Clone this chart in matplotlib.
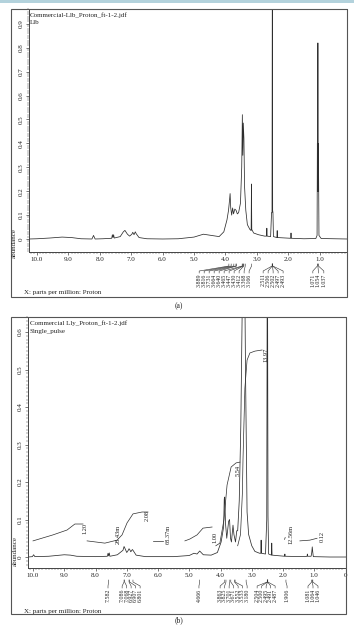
import matplotlib
matplotlib.use("Agg")
import matplotlib.pyplot as plt
from matplotlib.patches import Rectangle
from matplotlib.lines import Line2D
from matplotlib.ticker import MultipleLocator, FixedLocator
import matplotlib.transforms as mtransforms

plt.rcParams['font.family'] = ['Liberation Serif', 'DejaVu Serif']

# ------------------------------------------------------------------ data (a)
a_ppm = [10.25, 10.0, 9.6, 9.2, 8.9, 8.6, 8.25, 8.2, 8.15, 7.9, 7.62, 7.60, 7.58, 7.56,
         7.54, 7.35, 7.25, 7.20, 7.12, 7.05, 6.98, 6.95, 6.91, 6.87, 6.84, 6.75, 6.5,
         6.0, 5.5, 5.0, 4.7, 4.5, 4.2, 4.05, 3.95, 3.90, 3.87, 3.85, 3.83, 3.80, 3.77,
         3.74, 3.70, 3.66, 3.62, 3.58, 3.52, 3.48, 3.46, 3.445, 3.43, 3.41, 3.39, 3.35,
         3.30, 3.22, 3.18, 3.17, 3.16, 3.10, 2.95, 2.75, 2.69, 2.68, 2.67, 2.56, 2.53,
         2.515, 2.505, 2.495, 2.485, 2.47, 2.36, 2.35, 2.34, 1.92, 1.91, 1.90, 1.5, 1.12,
         1.08, 1.071, 1.062, 1.054, 1.045, 1.037, 1.02, 0.95, 0.13]
a_abund = [0.000, 0.001, 0.004, 0.008, 0.006, 0.001, 0.000, 0.015, 0.000, 0.001, 0.003,
           0.018, 0.006, 0.018, 0.004, 0.010, 0.030, 0.036, 0.020, 0.012, 0.020, 0.028,
           0.018, 0.030, 0.022, 0.006, 0.001, 0.000, 0.001, 0.008, 0.020, 0.016, 0.010,
           0.030, 0.080, 0.120, 0.160, 0.190, 0.130, 0.100, 0.130, 0.105, 0.125, 0.120,
           0.105, 0.110, 0.150, 0.300, 0.520, 0.350, 0.485, 0.420, 0.220, 0.120, 0.060,
           0.040, 0.035, 0.230, 0.040, 0.025, 0.018, 0.012, 0.012, 0.045, 0.012, 0.010,
           0.110, 0.110, 1.200, 0.120, 0.110, 0.010, 0.006, 0.035, 0.006, 0.003, 0.025,
           0.003, 0.001, 0.002, 0.015, 0.400, 0.200, 0.820, 0.200, 0.400, 0.015, 0.002,
           0.000]
a_yticks = [0.0, 0.1, 0.2, 0.3, 0.4, 0.5, 0.6, 0.7, 0.8, 0.9]
a_xticks = [10.0, 9.0, 8.0, 7.0, 6.0, 5.0, 4.0, 3.0, 2.0, 1.0]
a_peak_group1 = [3.889, 3.816, 3.731, 3.664, 3.640, 3.465, 3.447, 3.430, 3.412, 3.368, 3.166]
a_peak_group2 = [2.511, 2.506, 2.502, 2.497, 2.493]
a_peak_group3 = [1.071, 1.054, 1.037]
a_header = ["Commercial-Llb_Proton_ft-1-2.jdf", "Llb"]

# ------------------------------------------------------------------ data (b)
b_ppm = [10.16, 10.02, 9.98, 9.94, 9.5, 9.0, 8.8, 8.6, 8.0, 7.62, 7.60, 7.58, 7.56, 7.54,
         7.3, 7.12, 7.086, 7.068, 7.0, 6.95, 6.927, 6.907, 6.87, 6.82, 6.801, 6.7, 6.4,
         5.5, 5.0, 4.85, 4.75, 4.666, 4.55, 4.3, 4.1, 3.98, 3.90, 3.88, 3.863, 3.84, 3.80,
         3.74, 3.71, 3.68, 3.65, 3.60, 3.57, 3.52, 3.48, 3.45, 3.40, 3.35, 3.30, 3.25,
         3.20, 3.15, 3.10, 3.0, 2.9, 2.75, 2.71, 2.70, 2.69, 2.56, 2.52, 2.50, 2.48, 2.46,
         2.37, 2.36, 2.35, 1.95, 1.94, 1.93, 1.3, 1.23, 1.22, 1.21, 1.1, 1.08, 1.064,
         1.046, 1.03, 0.5, -0.02]
b_abund = [0.000, 0.001, 0.006, 0.001, 0.002, 0.006, 0.005, 0.002, 0.001, 0.002, 0.010,
           0.003, 0.011, 0.002, 0.006, 0.018, 0.028, 0.025, 0.012, 0.018, 0.022, 0.020,
           0.014, 0.020, 0.018, 0.005, 0.001, 0.001, 0.004, 0.010, 0.008, 0.016, 0.006,
           0.005, 0.012, 0.040, 0.080, 0.155, 0.160, 0.090, 0.050, 0.095, 0.100, 0.050,
           0.040, 0.085, 0.060, 0.040, 0.070, 0.070, 0.150, 0.350, 0.700, 1.000, 0.500,
           0.120, 0.060, 0.030, 0.015, 0.010, 0.010, 0.045, 0.010, 0.008, 0.100, 1.000,
           0.110, 0.008, 0.005, 0.037, 0.005, 0.002, 0.008, 0.002, 0.001, 0.002, 0.008,
           0.002, 0.002, 0.012, 0.027, 0.012, 0.001, 0.000, 0.000]
b_yticks = [0.0, 0.1, 0.2, 0.3, 0.4, 0.5, 0.6]
b_xticks = [10.0, 9.0, 8.0, 7.0, 6.0, 5.0, 4.0, 3.0, 2.0, 1.0, 0.0]
b_peak_group1 = [7.582]
b_peak_group2 = [7.086, 7.068, 6.927, 6.907, 6.801]
b_peak_group3 = [4.666]
b_peak_group4 = [3.863, 3.825, 3.701, 3.671, 3.552, 3.533, 3.180]
b_peak_group5 = [2.504, 2.500, 2.495, 2.491, 2.487]
b_peak_group6 = [1.906]
b_peak_group7 = [1.081, 1.064, 1.046]
b_header = ["Commercial Lly_Proton_ft-1-2.jdf", "Single_pulse"]

# integral curves (ppm, integral trace height)
b_int1_ppm = [10.0, 9.36, 8.91, 8.66, 8.40]
b_int1_val = [0.043, 0.059, 0.072, 0.088, 0.088]
b_int2_ppm = [8.27, 7.70, 7.31, 7.15, 6.99, 6.80, 6.51, 6.32]
b_int2_val = [0.043, 0.037, 0.045, 0.059, 0.091, 0.115, 0.120, 0.120]
b_int3_ppm = [6.16, 5.84]
b_int3_val = [0.043, 0.043]
b_int4_ppm = [5.14, 4.98, 4.75, 4.56, 4.27]
b_int4_val = [0.043, 0.048, 0.059, 0.077, 0.080]
b_int5_ppm = [4.15, 4.02, 3.89, 3.79, 3.66, 3.50, 3.38]
b_int5_val = [0.030, 0.037, 0.099, 0.192, 0.240, 0.251, 0.253]
b_int6_ppm = [3.45, 3.36, 3.30, 3.28, 3.22, 3.15, 3.06, 2.90, 2.67]
b_int6_val = [0.030, 0.060, 0.170, 0.260, 0.450, 0.525, 0.544, 0.549, 0.552]
b_int7_ppm = [1.95, 1.93]
b_int7_val = [0.047, 0.052]
b_int8_ppm = [1.46, 1.14, 0.91]
b_int8_val = [0.043, 0.045, 0.050]
b_int_labels = ["1.20", "28.43m", "2.08", "68.37m", "1.00", "5.54", "13.97", "12.56m", "0.12"]

# ------------------------------------------------------------------ layout
W, H = 354, 625
INK = '#2e2e2e'
fig = plt.figure(figsize=(W / 100, H / 100), dpi=100)
fig.patch.set_facecolor('white')


def prect(x0, y0, x1, y1):
    return [x0 / W, 1 - y1 / H, (x1 - x0) / W, (y1 - y0) / H]


def fy(y):
    return 1 - y / H


def ftext(x, y, s, **kw):
    fig.text(x / W, fy(y), s, color='#222222', **kw)


# light blue band at very top
fig.add_artist(Rectangle((0, fy(3)), 1, 3 / H, transform=fig.transFigure,
                         facecolor='#b3d2dc', edgecolor='none'))
# outer frames
for (x0, y0, x1, y1) in [(11, 9, 347, 297), (11, 317, 346, 614)]:
    r = prect(x0, y0, x1, y1)
    fig.add_artist(Rectangle((r[0], r[1]), r[2], r[3], transform=fig.transFigure,
                             fill=False, edgecolor='#555555', linewidth=0.8))

axA = fig.add_axes(prect(29, 9, 347, 252))
axB = fig.add_axes(prect(28, 317, 346, 568))


def style(ax, xlim, ylim, xticks, yticks):
    ax.set_xlim(*xlim)
    ax.set_ylim(*ylim)
    ax.xaxis.set_major_locator(FixedLocator(xticks))
    ax.set_xticklabels(['0' if t == 0 else f'{t:.1f}' for t in xticks])
    ax.xaxis.set_minor_locator(MultipleLocator(0.1))
    ax.yaxis.set_major_locator(FixedLocator(yticks))
    ax.set_yticklabels(['0' if t == 0 else f'{t:.1f}' for t in yticks],
                       rotation=90, va='center')
    ax.yaxis.set_minor_locator(MultipleLocator(0.01))
    ax.tick_params(which='major', direction='out', length=2.5, width=0.5,
                   labelsize=5, pad=1.2, color='#444444', labelcolor='#222222')
    ax.tick_params(which='minor', direction='out', length=1.2, width=0.35,
                   color='#555555')
    for s in ax.spines.values():
        s.set_linewidth(0.7)
        s.set_color('#444444')
    ax.set_facecolor('none')


style(axA, (10.255, 0.127), (-0.0544, 0.962), a_xticks, a_yticks)
style(axB, (10.16, -0.016), (-0.0293, 0.64), b_xticks, b_yticks)

axA.plot(a_ppm, a_abund, color=INK, linewidth=0.55)
axB.plot(b_ppm, b_abund, color=INK, linewidth=0.55)

# integrals on (b)
ints = [(b_int1_ppm, b_int1_val), (b_int2_ppm, b_int2_val), (b_int3_ppm, b_int3_val),
        (b_int4_ppm, b_int4_val), (b_int5_ppm, b_int5_val), (b_int6_ppm, b_int6_val),
        (b_int7_ppm, b_int7_val), (b_int8_ppm, b_int8_val)]
for xs, ys in ints:
    axB.plot(xs, ys, color=INK, linewidth=0.5)
int_label_pos = [(8.34, 0.077), (7.28, 0.059), (6.35, 0.112), (5.68, 0.059),
                 (4.18, 0.052), (3.44, 0.232), (2.55, 0.54), (1.74, 0.061), (0.75, 0.054)]
for s, (x, y) in zip(b_int_labels, int_label_pos):
    axB.text(x, y, s, rotation=90, ha='center', va='center', fontsize=4.6,
             color='#222222')


def peak_labels(ax, groups, centers, spacings, ys, fs=4.2):
    tr = mtransforms.blended_transform_factory(ax.transData, fig.transFigure)
    y0, y1, y2, y3 = ys
    for grp, c, sp in zip(groups, centers, spacings):
        n = len(grp)
        for i, p in enumerate(grp):
            L = c + (n - 1) / 2 * sp - i * sp
            ax.add_line(Line2D([p, p, L, L], [fy(y0), fy(y1), fy(y2), fy(y3)],
                               transform=tr, clip_on=False, linewidth=0.4, color=INK))
            ax.text(L, fy(y3 + 0.5), f'{p:.3f}', transform=tr, rotation=90,
                    ha='center', va='top', fontsize=fs, color='#222222')


peak_labels(axA, [a_peak_group1, a_peak_group2, a_peak_group3],
            [4.04, 2.48, 1.04], [0.159, 0.159, 0.175], (264, 266, 271, 273))
peak_labels(axB, [b_peak_group1, b_peak_group2, b_peak_group3, b_peak_group4,
                  b_peak_group5, b_peak_group6, b_peak_group7],
            [7.60, 6.86, 4.69, 3.58, 2.54, 1.87, 1.04],
            [0.144, 0.144, 0.144, 0.144, 0.144, 0.144, 0.16], (580, 582, 586, 588))

# headers & labels
ftext(30, 15, a_header[0], fontsize=5, va='center', ha='left')
ftext(30, 23, a_header[1], fontsize=5, va='center', ha='left')
ftext(30, 323, b_header[0], fontsize=5, va='center', ha='left')
ftext(30, 332, b_header[1], fontsize=5, va='center', ha='left')
ftext(14, 243, 'abundance', fontsize=5, rotation=90, va='center', ha='center')
ftext(15, 551, 'abundance', fontsize=5, rotation=90, va='center', ha='center')
ftext(24, 292, 'X: parts per million: Proton', fontsize=5, va='center', ha='left')
ftext(24, 611, 'X: parts per million: Proton', fontsize=5, va='center', ha='left')
ftext(179, 306, '(a)', fontsize=5.5, va='center', ha='center')
ftext(179, 620, '(b)', fontsize=5.5, va='center', ha='center')

fig.savefig('out.png', dpi=100)
